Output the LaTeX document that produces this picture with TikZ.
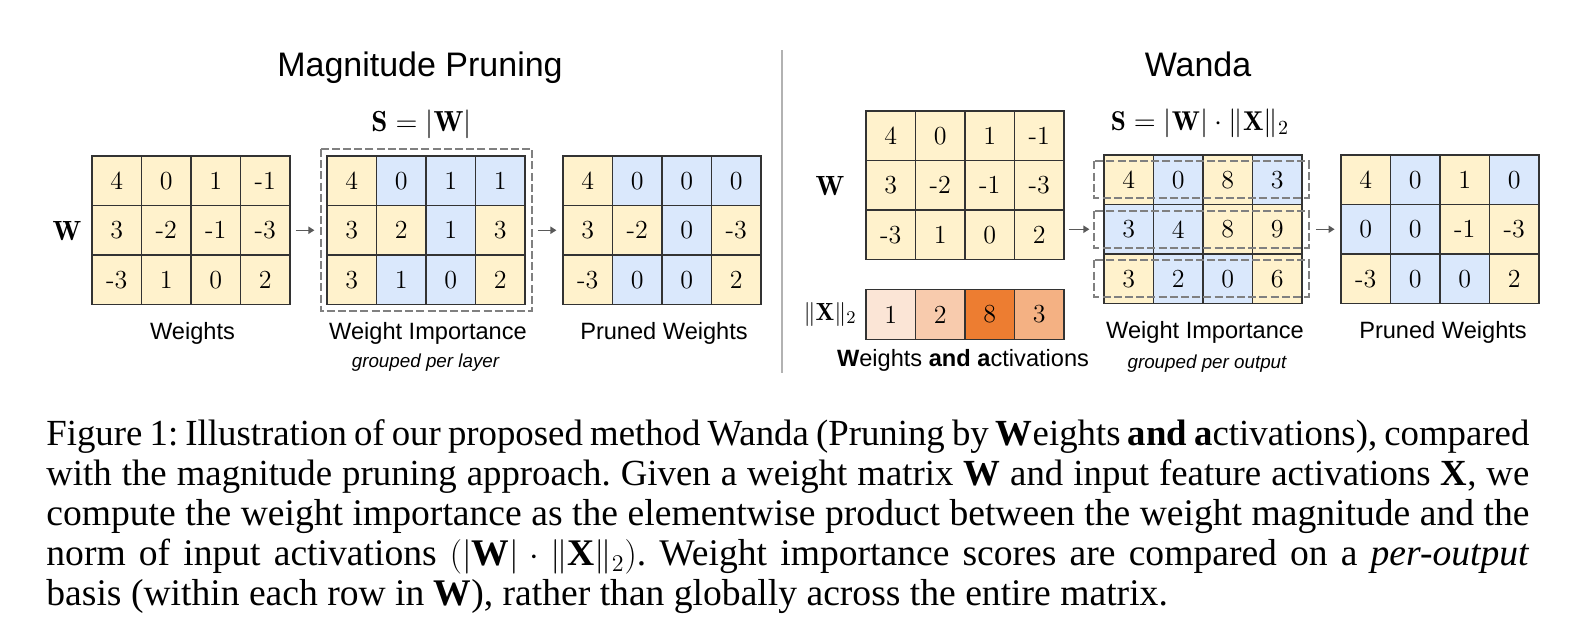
\documentclass[tikz,border=0pt]{standalone}
\usepackage{fontspec}
\newfontfamily\sansf{Liberation Sans}
\newfontfamily\capfont{Liberation Serif}
\usetikzlibrary{arrows.meta}

\definecolor{wyellow}{HTML}{FFF2CC}
\definecolor{wblue}{HTML}{DAE8FC}
\definecolor{actA}{HTML}{FBE5D6}
\definecolor{actB}{HTML}{F8CBAD}
\definecolor{actC}{HTML}{F4B183}
\definecolor{actD}{HTML}{ED7D31}
\definecolor{boxgray}{HTML}{808080}
\definecolor{arrowgray}{HTML}{595959}

\tikzset{
  cell/.style={draw=black!80, line width=0.6pt, minimum size=24.75pt, inner sep=0pt,
    font=\fontsize{13}{15}\selectfont},
  yc/.style={cell, fill=wyellow},
  bc/.style={cell, fill=wblue},
  a1/.style={cell, fill=actA},
  a2/.style={cell, fill=actB},
  a3/.style={cell, fill=actC},
  a8/.style={cell, fill=actD},
  title/.style={font=\sansf\fontsize{17}{20}\selectfont, anchor=base, inner sep=0pt},
  lbl/.style={font=\sansf\fontsize{11.8}{14}\selectfont, anchor=base, inner sep=0pt},
  note/.style={font=\sansf\itshape\fontsize{9.4}{11}\selectfont, anchor=base, inner sep=0pt},
  mlbl/.style={font=\fontsize{13.9}{16}\selectfont, anchor=base, inner sep=0pt},
  groupbox/.style={draw=boxgray, line width=1pt, dash pattern=on 4pt off 1.6pt},
  flow/.style={->, draw=arrowgray, line width=0.7pt},
  sepline/.style={draw=black!30, line width=1pt},
  caption/.style={anchor=north west, inner sep=0pt, text width=741.5pt, align=left,
    font=\capfont\fontsize{18.4}{20}\selectfont},
  >={Triangle[length=3pt,width=3.6pt]}
}

% one row of a matrix: name, left x, centre y, value/style list
\newcommand{\cellrow}[4]{%
  \foreach \v/\s [count=\c] in {#4}
    \node[\s] (#1-\c) at ({#2+49.5*(\c-0.5)},#3) {\v};}
% one full-width caption line
\newcommand{\capline}[1]{\hbox to 741.5pt{#1}}
\newcommand{\capspacing}{\frenchspacing\spaceskip=0.25em plus 0.12em minus 0.14em\relax}

\begin{document}
\begin{tikzpicture}[x=0.5pt,y=-0.5pt]
  \useasboundingbox (0,0) rectangle (1579,637);

  % Titles
  \node[title] (tmag) at (420,76) {Magnitude Pruning};
  \node[title] (twanda) at (1198,76) {Wanda};
  \draw[sepline] (782,50) -- (782,373);

  % Magnitude pruning: weights
  \node[mlbl] (wlab) at (67,240) {$\mathbf{W}$};
  \cellrow{wl-1}{92}{180.75}{4/yc,0/yc,1/yc,-1/yc}
  \cellrow{wl-2}{92}{230.25}{3/yc,-2/yc,-1/yc,-3/yc}
  \cellrow{wl-3}{92}{279.75}{-3/yc,1/yc,0/yc,2/yc}

  % Magnitude pruning: importance
  \node[mlbl, font=\fontsize{14.5}{17}\selectfont] (sform) at (421.5,131.5) {$\mathbf{S} = |\mathbf{W}|$};
  \cellrow{sl-1}{327}{180.75}{4/yc,0/bc,1/bc,1/bc}
  \cellrow{sl-2}{327}{230.25}{3/yc,2/yc,1/bc,3/yc}
  \cellrow{sl-3}{327}{279.75}{3/yc,1/bc,0/bc,2/yc}
  \draw[groupbox] ([shift={(-5.5,-6.5)}]sl-1-1.north west) rectangle ([shift={(6.5,6)}]sl-3-4.south east);

  % Magnitude pruning: pruned
  \cellrow{pl-1}{563}{180.75}{4/yc,0/bc,0/bc,0/bc}
  \cellrow{pl-2}{563}{230.25}{3/yc,-2/yc,0/bc,-3/yc}
  \cellrow{pl-3}{563}{279.75}{-3/yc,0/bc,0/bc,2/yc}

  \draw[flow, shorten <=2.5pt, shorten >=6pt] (wl-2-4) -- (sl-2-1);
  \draw[flow, shorten <=6pt, shorten >=3pt] (sl-2-4) -- (pl-2-1);

  \node[lbl] (lw) at (192.5,339) {Weights};
  \node[lbl] (ls) at (428,339) {Weight Importance};
  \node[note] (gl) at (425.5,367) {grouped per layer};
  \node[lbl] (lp) at (664,339) {Pruned Weights};

  % Wanda: weights and activations
  \node[mlbl] (wrlab) at (830,195) {$\mathbf{W}$};
  \cellrow{wr-1}{866}{135.75}{4/yc,0/yc,1/yc,-1/yc}
  \cellrow{wr-2}{866}{185.25}{3/yc,-2/yc,-1/yc,-3/yc}
  \cellrow{wr-3}{866}{234.75}{-3/yc,1/yc,0/yc,2/yc}
  \node[mlbl, font=\fontsize{12.4}{14}\selectfont] (xlab) at (830,320) {$\|\mathbf{X}\|_2$};
  \cellrow{xn}{866}{314.5}{1/a1,2/a2,8/a8,3/a3}
  \node[lbl] (lwa) at (963,366) {\textbf{W}eights \textbf{and} \textbf{a}ctivations};

  % Wanda: importance
  \node[mlbl, font=\fontsize{13.6}{16}\selectfont] (sformr) at (1200,130) {$\mathbf{S} = |\mathbf{W}| \cdot \|\mathbf{X}\|_2$};
  \cellrow{sr-1}{1104}{179.75}{4/yc,0/bc,8/yc,3/bc}
  \cellrow{sr-2}{1104}{229.25}{3/bc,4/bc,8/yc,9/yc}
  \cellrow{sr-3}{1104}{278.75}{3/yc,2/bc,0/bc,6/yc}
  \foreach \r in {1,2,3}
    \draw[groupbox] ([shift={(-9,-18.3)}]sr-\r-1.west) rectangle ([shift={(6,18.3)}]sr-\r-4.east);

  % Wanda: pruned
  \cellrow{pr-1}{1341}{179.75}{4/yc,0/bc,1/yc,0/bc}
  \cellrow{pr-2}{1341}{229.25}{0/bc,0/bc,-1/yc,-3/yc}
  \cellrow{pr-3}{1341}{278.75}{-3/yc,0/bc,0/bc,2/yc}

  \draw[flow, shorten <=2pt, shorten >=7pt] (wr-3-4.east |- sr-2-1.west) -- (sr-2-1.west);
  \draw[flow, shorten <=6.6pt, shorten >=2.9pt] (sr-2-4) -- (pr-2-1);

  \node[lbl] (lsr) at (1205,338) {Weight Importance};
  \node[note] (gr) at (1207,368) {grouped per output};
  \node[lbl] (lpr) at (1443,338) {Pruned Weights};

  % Caption
  \node[caption] (cap) at (46,419.6) {\capspacing
    \capline{Figure 1: Illustration of our proposed method Wanda (Pruning by \textbf{W}eights \textbf{and} \textbf{a}ctivations), compared}
    \capline{with the magnitude pruning approach. Given a weight matrix \textbf{W} and input feature activations \textbf{X}, we}
    \fontsize{18.8}{20}\selectfont\capspacing
    \capline{compute the weight importance as the elementwise product between the weight magnitude and the}
    \capline{norm of input activations $(|\mbox{\bfseries W}| \cdot \|\mbox{\bfseries X}\|_2)$. Weight importance scores are compared on a \textit{per-output}}
    \hbox{basis (within each row in \textbf{W}), rather than globally across the entire matrix.}};
\end{tikzpicture}
\end{document}
